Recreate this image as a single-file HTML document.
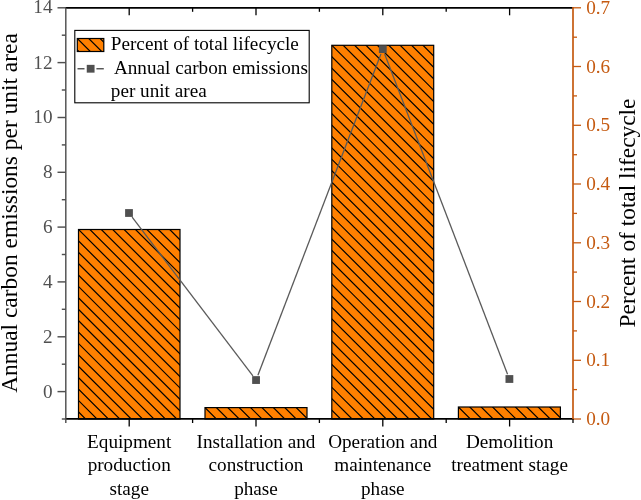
<!DOCTYPE html>
<html><head><meta charset="utf-8"><title>Chart</title>
<style>
html,body{margin:0;padding:0;background:#fff;}
body{width:641px;height:500px;overflow:hidden;}
svg{display:block;}
text{font-family:"Liberation Serif",serif;}
</style></head><body>
<svg width="641" height="500" viewBox="0 0 641 500">
<rect width="641" height="500" fill="#fff"/>
<clipPath id="c0"><rect x="78.50" y="229.50" width="101.50" height="189.50"/></clipPath><rect x="78.50" y="229.50" width="101.50" height="189.50" fill="#FF8000"/><path clip-path="url(#c0)" d="M77.50,410.90L86.60,420.00M77.50,399.50L98.00,420.00M77.50,388.10L109.40,420.00M77.50,376.70L120.80,420.00M77.50,365.30L132.20,420.00M77.50,353.90L143.60,420.00M77.50,342.50L155.00,420.00M77.50,331.10L166.40,420.00M77.50,319.70L177.80,420.00M77.50,308.30L181.00,411.80M77.50,296.90L181.00,400.40M77.50,285.50L181.00,389.00M77.50,274.10L181.00,377.60M77.50,262.70L181.00,366.20M77.50,251.30L181.00,354.80M77.50,239.90L181.00,343.40M77.50,228.50L181.00,332.00M88.90,228.50L181.00,320.60M100.30,228.50L181.00,309.20M111.70,228.50L181.00,297.80M123.10,228.50L181.00,286.40M134.50,228.50L181.00,275.00M145.90,228.50L181.00,263.60M157.30,228.50L181.00,252.20M168.70,228.50L181.00,240.80" stroke="#000" stroke-width="1.20" fill="none"/><rect x="78.50" y="229.50" width="101.50" height="189.50" fill="none" stroke="#000" stroke-width="1.20"/>
<clipPath id="c1"><rect x="205.00" y="407.60" width="102.00" height="11.40"/></clipPath><rect x="205.00" y="407.60" width="102.00" height="11.40" fill="#FF8000"/><path clip-path="url(#c1)" d="M204.00,406.60L217.40,420.00M215.40,406.60L228.80,420.00M226.80,406.60L240.20,420.00M238.20,406.60L251.60,420.00M249.60,406.60L263.00,420.00M261.00,406.60L274.40,420.00M272.40,406.60L285.80,420.00M283.80,406.60L297.20,420.00M295.20,406.60L308.00,419.40" stroke="#000" stroke-width="1.20" fill="none"/><rect x="205.00" y="407.60" width="102.00" height="11.40" fill="none" stroke="#000" stroke-width="1.20"/>
<clipPath id="c2"><rect x="331.80" y="45.30" width="101.90" height="373.70"/></clipPath><rect x="331.80" y="45.30" width="101.90" height="373.70" fill="#FF8000"/><path clip-path="url(#c2)" d="M330.80,409.10L341.70,420.00M330.80,397.70L353.10,420.00M330.80,386.30L364.50,420.00M330.80,374.90L375.90,420.00M330.80,363.50L387.30,420.00M330.80,352.10L398.70,420.00M330.80,340.70L410.10,420.00M330.80,329.30L421.50,420.00M330.80,317.90L432.90,420.00M330.80,306.50L434.70,410.40M330.80,295.10L434.70,399.00M330.80,283.70L434.70,387.60M330.80,272.30L434.70,376.20M330.80,260.90L434.70,364.80M330.80,249.50L434.70,353.40M330.80,238.10L434.70,342.00M330.80,226.70L434.70,330.60M330.80,215.30L434.70,319.20M330.80,203.90L434.70,307.80M330.80,192.50L434.70,296.40M330.80,181.10L434.70,285.00M330.80,169.70L434.70,273.60M330.80,158.30L434.70,262.20M330.80,146.90L434.70,250.80M330.80,135.50L434.70,239.40M330.80,124.10L434.70,228.00M330.80,112.70L434.70,216.60M330.80,101.30L434.70,205.20M330.80,89.90L434.70,193.80M330.80,78.50L434.70,182.40M330.80,67.10L434.70,171.00M330.80,55.70L434.70,159.60M330.80,44.30L434.70,148.20M342.20,44.30L434.70,136.80M353.60,44.30L434.70,125.40M365.00,44.30L434.70,114.00M376.40,44.30L434.70,102.60M387.80,44.30L434.70,91.20M399.20,44.30L434.70,79.80M410.60,44.30L434.70,68.40M422.00,44.30L434.70,57.00" stroke="#000" stroke-width="1.20" fill="none"/><rect x="331.80" y="45.30" width="101.90" height="373.70" fill="none" stroke="#000" stroke-width="1.20"/>
<clipPath id="c3"><rect x="458.40" y="407.00" width="102.00" height="12.00"/></clipPath><rect x="458.40" y="407.00" width="102.00" height="12.00" fill="#FF8000"/><path clip-path="url(#c3)" d="M457.40,417.40L460.00,420.00M457.40,406.00L471.40,420.00M468.80,406.00L482.80,420.00M480.20,406.00L494.20,420.00M491.60,406.00L505.60,420.00M503.00,406.00L517.00,420.00M514.40,406.00L528.40,420.00M525.80,406.00L539.80,420.00M537.20,406.00L551.20,420.00M548.60,406.00L561.40,418.80" stroke="#000" stroke-width="1.20" fill="none"/><rect x="458.40" y="407.00" width="102.00" height="12.00" fill="none" stroke="#000" stroke-width="1.20"/>
<line x1="132.15" y1="217.14" x2="252.90" y2="375.91" stroke="#5a5a5a" stroke-width="1.3"/>
<line x1="257.91" y1="375.19" x2="380.94" y2="54.01" stroke="#5a5a5a" stroke-width="1.3"/>
<line x1="384.66" y1="54.00" x2="507.54" y2="374.15" stroke="#5a5a5a" stroke-width="1.3"/>
<rect x="125.10" y="209.10" width="7.8" height="7.8" fill="#505050"/>
<rect x="252.15" y="376.15" width="7.8" height="7.8" fill="#505050"/>
<rect x="378.90" y="45.25" width="7.8" height="7.8" fill="#505050"/>
<rect x="505.50" y="375.10" width="7.8" height="7.8" fill="#505050"/>
<line x1="65.2" y1="7.8" x2="573.0" y2="7.8" stroke="#000" stroke-width="1.7"/>
<line x1="65.2" y1="418.8" x2="573.6" y2="418.8" stroke="#000" stroke-width="1.7"/>
<line x1="65.8" y1="7.8" x2="65.8" y2="423.0" stroke="#505050" stroke-width="1.45"/>
<line x1="573.0" y1="7.1" x2="573.0" y2="419.7" stroke="#C55A11" stroke-width="1.7"/>
<line x1="61.8" y1="419.0" x2="65.8" y2="419.0" stroke="#505050" stroke-width="1.45"/>
<line x1="57.5" y1="391.6" x2="65.8" y2="391.6" stroke="#505050" stroke-width="1.45"/>
<text x="52.5" y="397.5" font-size="19.2" fill="#505050" text-anchor="end">0</text>
<line x1="61.8" y1="364.2" x2="65.8" y2="364.2" stroke="#505050" stroke-width="1.45"/>
<line x1="57.5" y1="336.8" x2="65.8" y2="336.8" stroke="#505050" stroke-width="1.45"/>
<text x="52.5" y="342.7" font-size="19.2" fill="#505050" text-anchor="end">2</text>
<line x1="61.8" y1="309.3" x2="65.8" y2="309.3" stroke="#505050" stroke-width="1.45"/>
<line x1="57.5" y1="281.9" x2="65.8" y2="281.9" stroke="#505050" stroke-width="1.45"/>
<text x="52.5" y="287.8" font-size="19.2" fill="#505050" text-anchor="end">4</text>
<line x1="61.8" y1="254.5" x2="65.8" y2="254.5" stroke="#505050" stroke-width="1.45"/>
<line x1="57.5" y1="227.1" x2="65.8" y2="227.1" stroke="#505050" stroke-width="1.45"/>
<text x="52.5" y="233.0" font-size="19.2" fill="#505050" text-anchor="end">6</text>
<line x1="61.8" y1="199.7" x2="65.8" y2="199.7" stroke="#505050" stroke-width="1.45"/>
<line x1="57.5" y1="172.3" x2="65.8" y2="172.3" stroke="#505050" stroke-width="1.45"/>
<text x="52.5" y="178.2" font-size="19.2" fill="#505050" text-anchor="end">8</text>
<line x1="61.8" y1="144.9" x2="65.8" y2="144.9" stroke="#505050" stroke-width="1.45"/>
<line x1="57.5" y1="117.5" x2="65.8" y2="117.5" stroke="#505050" stroke-width="1.45"/>
<text x="52.5" y="123.4" font-size="19.2" fill="#505050" text-anchor="end">10</text>
<line x1="61.8" y1="90.0" x2="65.8" y2="90.0" stroke="#505050" stroke-width="1.45"/>
<line x1="57.5" y1="62.6" x2="65.8" y2="62.6" stroke="#505050" stroke-width="1.45"/>
<text x="52.5" y="68.5" font-size="19.2" fill="#505050" text-anchor="end">12</text>
<line x1="61.8" y1="35.2" x2="65.8" y2="35.2" stroke="#505050" stroke-width="1.45"/>
<line x1="57.5" y1="7.8" x2="65.8" y2="7.8" stroke="#505050" stroke-width="1.45"/>
<text x="52.5" y="13.1" font-size="19.2" fill="#505050" text-anchor="end">14</text>
<line x1="573.0" y1="419.0" x2="581.0" y2="419.0" stroke="#C55A11" stroke-width="1.3"/>
<text x="586.2" y="425.1" font-size="19.2" fill="#C55A11">0.0</text>
<line x1="573.0" y1="389.6" x2="577.0" y2="389.6" stroke="#C55A11" stroke-width="1.3"/>
<line x1="573.0" y1="360.3" x2="581.0" y2="360.3" stroke="#C55A11" stroke-width="1.3"/>
<text x="586.2" y="366.4" font-size="19.2" fill="#C55A11">0.1</text>
<line x1="573.0" y1="330.9" x2="577.0" y2="330.9" stroke="#C55A11" stroke-width="1.3"/>
<line x1="573.0" y1="301.5" x2="581.0" y2="301.5" stroke="#C55A11" stroke-width="1.3"/>
<text x="586.2" y="307.6" font-size="19.2" fill="#C55A11">0.2</text>
<line x1="573.0" y1="272.1" x2="577.0" y2="272.1" stroke="#C55A11" stroke-width="1.3"/>
<line x1="573.0" y1="242.8" x2="581.0" y2="242.8" stroke="#C55A11" stroke-width="1.3"/>
<text x="586.2" y="248.9" font-size="19.2" fill="#C55A11">0.3</text>
<line x1="573.0" y1="213.4" x2="577.0" y2="213.4" stroke="#C55A11" stroke-width="1.3"/>
<line x1="573.0" y1="184.0" x2="581.0" y2="184.0" stroke="#C55A11" stroke-width="1.3"/>
<text x="586.2" y="190.1" font-size="19.2" fill="#C55A11">0.4</text>
<line x1="573.0" y1="154.7" x2="577.0" y2="154.7" stroke="#C55A11" stroke-width="1.3"/>
<line x1="573.0" y1="125.3" x2="581.0" y2="125.3" stroke="#C55A11" stroke-width="1.3"/>
<text x="586.2" y="131.4" font-size="19.2" fill="#C55A11">0.5</text>
<line x1="573.0" y1="95.9" x2="577.0" y2="95.9" stroke="#C55A11" stroke-width="1.3"/>
<line x1="573.0" y1="66.5" x2="581.0" y2="66.5" stroke="#C55A11" stroke-width="1.3"/>
<text x="586.2" y="72.6" font-size="19.2" fill="#C55A11">0.6</text>
<line x1="573.0" y1="37.2" x2="577.0" y2="37.2" stroke="#C55A11" stroke-width="1.3"/>
<line x1="573.0" y1="7.8" x2="581.0" y2="7.8" stroke="#C55A11" stroke-width="1.3"/>
<text x="586.2" y="13.7" font-size="19.2" fill="#C55A11">0.7</text>
<line x1="129.2" y1="419.0" x2="129.2" y2="426.5" stroke="#000" stroke-width="1.3"/>
<line x1="192.6" y1="419.0" x2="192.6" y2="423.0" stroke="#000" stroke-width="1.3"/>
<line x1="256.0" y1="419.0" x2="256.0" y2="426.5" stroke="#000" stroke-width="1.3"/>
<line x1="319.4" y1="419.0" x2="319.4" y2="423.0" stroke="#000" stroke-width="1.3"/>
<line x1="382.8" y1="419.0" x2="382.8" y2="426.5" stroke="#000" stroke-width="1.3"/>
<line x1="446.2" y1="419.0" x2="446.2" y2="423.0" stroke="#000" stroke-width="1.3"/>
<line x1="509.6" y1="419.0" x2="509.6" y2="426.5" stroke="#000" stroke-width="1.3"/>
<line x1="573.0" y1="419.0" x2="573.0" y2="423.0" stroke="#000" stroke-width="1.3"/>
<line x1="129.2" y1="7.8" x2="129.2" y2="15.3" stroke="#000" stroke-width="1.3"/>
<line x1="192.6" y1="7.8" x2="192.6" y2="11.8" stroke="#000" stroke-width="1.3"/>
<line x1="256.0" y1="7.8" x2="256.0" y2="15.3" stroke="#000" stroke-width="1.3"/>
<line x1="319.4" y1="7.8" x2="319.4" y2="11.8" stroke="#000" stroke-width="1.3"/>
<line x1="382.8" y1="7.8" x2="382.8" y2="15.3" stroke="#000" stroke-width="1.3"/>
<line x1="446.2" y1="7.8" x2="446.2" y2="11.8" stroke="#000" stroke-width="1.3"/>
<line x1="509.6" y1="7.8" x2="509.6" y2="15.3" stroke="#000" stroke-width="1.3"/>
<text x="129.2" y="447.7" font-size="19.2" fill="#000" text-anchor="middle">Equipment</text>
<text x="129.2" y="471.2" font-size="19.2" fill="#000" text-anchor="middle">production</text>
<text x="129.2" y="494.7" font-size="19.2" fill="#000" text-anchor="middle">stage</text>
<text x="256.0" y="447.7" font-size="19.2" fill="#000" text-anchor="middle">Installation and</text>
<text x="256.0" y="471.2" font-size="19.2" fill="#000" text-anchor="middle">construction</text>
<text x="256.0" y="494.7" font-size="19.2" fill="#000" text-anchor="middle">phase</text>
<text x="382.8" y="447.7" font-size="19.2" fill="#000" text-anchor="middle">Operation and</text>
<text x="382.8" y="471.2" font-size="19.2" fill="#000" text-anchor="middle">maintenance</text>
<text x="382.8" y="494.7" font-size="19.2" fill="#000" text-anchor="middle">phase</text>
<text x="509.6" y="447.7" font-size="19.2" fill="#000" text-anchor="middle">Demolition</text>
<text x="509.6" y="471.2" font-size="19.2" fill="#000" text-anchor="middle">treatment stage</text>
<text transform="translate(16.8,213.0) rotate(-90)" font-size="23.43" fill="#000" text-anchor="middle">Annual carbon emissions per unit area</text>
<text transform="translate(635.2,213.0) rotate(-90)" font-size="23.36" fill="#000" text-anchor="middle">Percent of total lifecycle</text>
<rect x="74.8" y="30.4" width="234.4" height="72.4" fill="#fff" stroke="#000" stroke-width="1.1"/>
<clipPath id="cl"><rect x="77.30" y="38.50" width="26.50" height="13.00"/></clipPath><rect x="77.30" y="38.50" width="26.50" height="13.00" fill="#FF8000"/><path clip-path="url(#cl)" d="M76.30,48.90L79.90,52.50M76.30,37.50L91.30,52.50M87.70,37.50L102.70,52.50M99.10,37.50L104.80,43.20" stroke="#000" stroke-width="1.20" fill="none"/><rect x="77.30" y="38.50" width="26.50" height="13.00" fill="none" stroke="#000" stroke-width="1.20"/>
<line x1="77.5" y1="68.75" x2="84.5" y2="68.75" stroke="#505050" stroke-width="1.4"/>
<line x1="96.4" y1="68.75" x2="103.8" y2="68.75" stroke="#505050" stroke-width="1.4"/>
<rect x="86.75" y="64.85" width="7.8" height="7.8" fill="#505050"/>
<text x="110.8" y="49.5" font-size="19.2" fill="#000">Percent of total lifecycle</text>
<text x="113.9" y="73.7" font-size="19.2" fill="#000">Annual carbon emissions</text>
<text x="110.8" y="97.3" font-size="19.2" fill="#000">per unit area</text>
</svg>
</body></html>
